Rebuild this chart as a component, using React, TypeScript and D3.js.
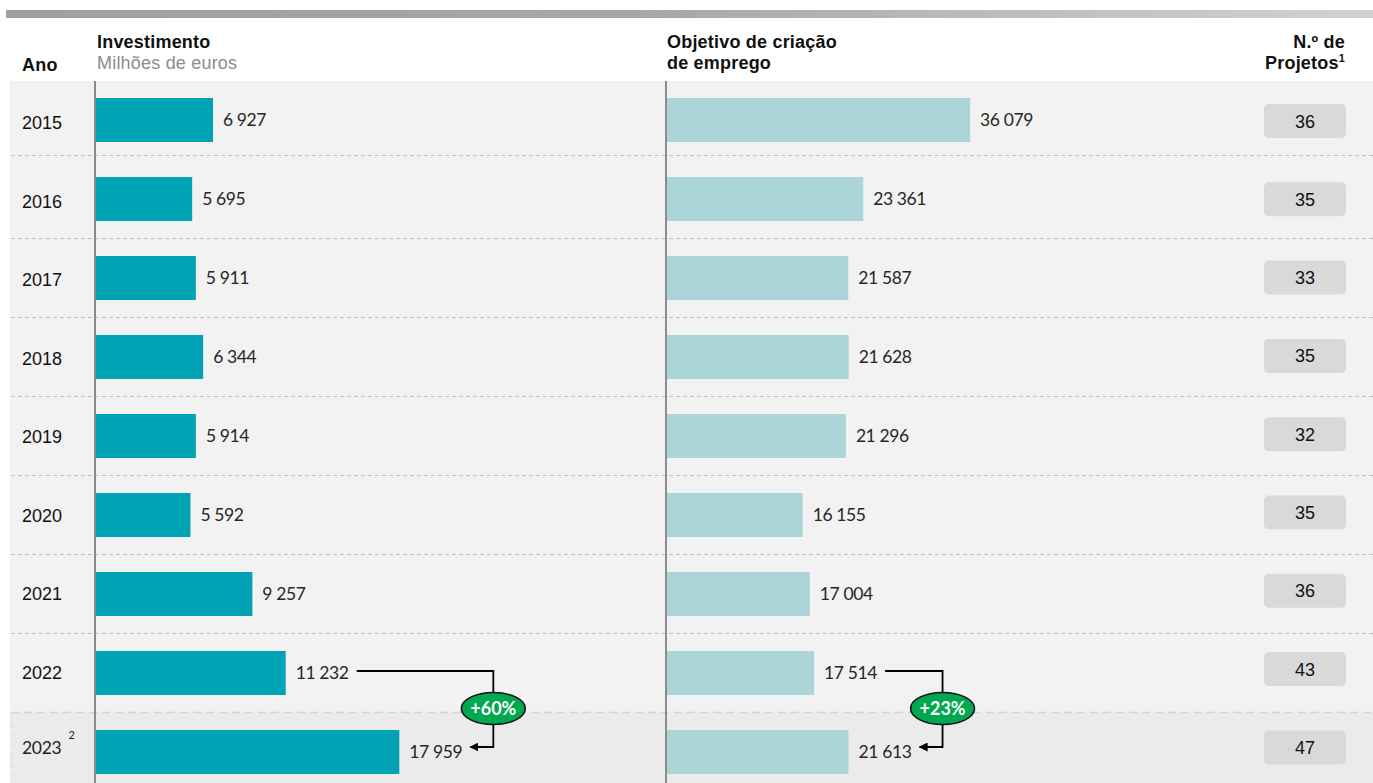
import React from "react";
import * as d3 from "d3";

const years = ["2015", "2016", "2017", "2018", "2019", "2020", "2021", "2022", "2023"];
const investimento = [6927, 5695, 5911, 6344, 5914, 5592, 9257, 11232, 17959];
const emprego = [36079, 23361, 21587, 21628, 21296, 16155, 17004, 17514, 21613];
const projetos = [36, 35, 33, 35, 32, 35, 36, 43, 47];
const growthLabels = ["+60%", "+23%"];

const W = 1373;
const H = 783;
const fmt = (v: number) => d3.format(",")(v).replace(/,/g, " ");

export default function App() {
  const xInv = d3.scaleLinear().domain([0, 20000]).range([96, 96 + 337.8]);
  const xJob = d3.scaleLinear().domain([0, 40000]).range([667, 667 + 336]);
  const yC = d3.scaleLinear().domain([0, years.length - 1]).range([120, 752]);
  const barH = 44;
  const last = years.length - 1;
  const sepY = (i: number) => (yC(i) + yC(i + 1)) / 2 - (i === 0 ? 4 : 0);
  const lblFont = "Lato, 'Open Sans', sans-serif";
  const arial = "'Liberation Sans', Arial, sans-serif";
  const hdr = { fontFamily: arial, fontSize: 18, letterSpacing: 0.2 } as const;
  const val = { fontFamily: lblFont, fontSize: 17.5, letterSpacing: -0.4 } as const;

  const connectors = [
    { x: xInv, vals: investimento, label: growthLabels[0] },
    { x: xJob, vals: emprego, label: growthLabels[1] },
  ].map((c) => {
    const x0 = c.x(c.vals[last - 1]) + 71;
    const cx = c.x(c.vals[last]) + 94;
    const tip = c.x(c.vals[last]) + 71;
    const y0 = yC(last - 1) - 2;
    const y1 = yC(last) - 5;
    return { x0, cx, tip, y0, y1, label: c.label, cy: sepY(last - 1) - 4 };
  });

  return (
    <svg width={W} height={H} style={{ position: "absolute", left: 0, top: 0, background: "#fff" }}>
      <defs>
        <linearGradient id="topbar" x1="0" x2="1" y1="0" y2="0">
          <stop offset="0" stopColor="#a0a0a0" />
          <stop offset="0.45" stopColor="#a6a6a6" />
          <stop offset="1" stopColor="#d2d2d2" />
        </linearGradient>
        <marker id="arr" viewBox="0 0 10 10" refX="9" refY="5" markerWidth="9" markerHeight="9" orient="auto-start-reverse" markerUnits="userSpaceOnUse">
          <path d="M0,0 L10,5 L0,10 z" fill="#000" />
        </marker>
      </defs>
      <rect x={6} y={10} width={W - 6} height={8} fill="url(#topbar)" />

      {/* headers */}
      <text x={22} y={71} {...hdr} fontWeight="bold" fill="#111">Ano</text>
      <text x={97} y={48} {...hdr} fontWeight="bold" fill="#111">Investimento</text>
      <text x={97} y={69} {...hdr} fill="#8c8c8c">Milhões de euros</text>
      <text x={667} y={48} {...hdr} fontWeight="bold" fill="#111">Objetivo de criação</text>
      <text x={667} y={69} {...hdr} fontWeight="bold" fill="#111">de emprego</text>
      <text x={1345} y={48} textAnchor="end" {...hdr} fontWeight="bold" fill="#111">N.º de</text>
      <text x={1345} y={69} textAnchor="end" {...hdr} fontWeight="bold" fill="#111">
        Projetos<tspan fontSize={11} dy={-7}>1</tspan>
      </text>

      {/* backgrounds */}
      <rect x={10} y={81} width={W - 10} height={H - 81} fill="#f2f2f2" />
      <rect x={11} y={sepY(last - 1)} width={W - 11} height={H - sepY(last - 1)} fill="#ebebeb" />
      <line x1={11} x2={11} y1={sepY(last - 1)} y2={H} stroke="#d9d9d9" strokeDasharray="6,4" />

      {/* separators */}
      {years.slice(0, -1).map((_, i) => (
        <line key={i} x1={11} x2={W} y1={sepY(i)} y2={sepY(i)}
          stroke={i === last - 1 ? "#d4d4d4" : "#bfbfbf"} strokeWidth={i === last - 1 ? 1.5 : 1}
          strokeDasharray={i === last - 1 ? "8,5" : "4,3"} />
      ))}

      {/* axes */}
      <line x1={95} x2={95} y1={81} y2={H} stroke="#8c8c8c" strokeWidth={2} />
      <line x1={666} x2={666} y1={81} y2={H} stroke="#8c8c8c" strokeWidth={2} />

      {years.map((yr, i) => {
        const c = yC(i);
        const isLast = i === last;
        const bc = c + 1 - i * 0.7;
        return (
          <g key={yr}>
            {isLast ? (
              <text x={22} y={c + 2} fontFamily={lblFont} fontSize={17.5} letterSpacing={-0.3} fill="#222">
                {yr}
                <tspan fontSize={11} dx={7} dy={-15}>2</tspan>
              </text>
            ) : (
              <text x={22} y={c + 9 - i * 0.5} fontFamily={arial} fontSize={18} fill="#111">{yr}</text>
            )}
            <rect x={xInv(0)} y={c - barH / 2} width={xInv(investimento[i]) - xInv(0)} height={barH} fill="#00a3b4" />
            <text x={xInv(investimento[i]) + 10} y={c + 6} {...val} fill="#262626">{fmt(investimento[i])}</text>
            <rect x={xJob(0)} y={c - barH / 2} width={xJob(emprego[i]) - xJob(0)} height={barH} fill="#acd5d9" />
            <text x={xJob(emprego[i]) + 10} y={c + 6} {...val} fill="#262626">{fmt(emprego[i])}</text>
            <rect x={1264} y={bc - 17} width={82} height={34} rx={5} fill="#d9d9d9" />
            <text x={1305} y={bc + 6.5} textAnchor="middle" fontFamily={arial} fontSize={18} fill="#111">{projetos[i]}</text>
          </g>
        );
      })}

      {/* growth connectors */}
      {connectors.map((c, k) => (
        <g key={k}>
          <path d={`M${c.x0},${c.y0} H${c.cx} V${c.y1} H${c.tip}`} fill="none" stroke="#000" strokeWidth={1.8} markerEnd="url(#arr)" />
          <ellipse cx={c.cx} cy={c.cy} rx={32} ry={16} fill="#00a84f" stroke="#111" strokeWidth={1.5} />
          <text x={c.cx} y={c.cy + 6.5} textAnchor="middle" fontFamily={lblFont} fontWeight="bold" fontSize={18} fill="#fff">{c.label}</text>
        </g>
      ))}
    </svg>
  );
}
